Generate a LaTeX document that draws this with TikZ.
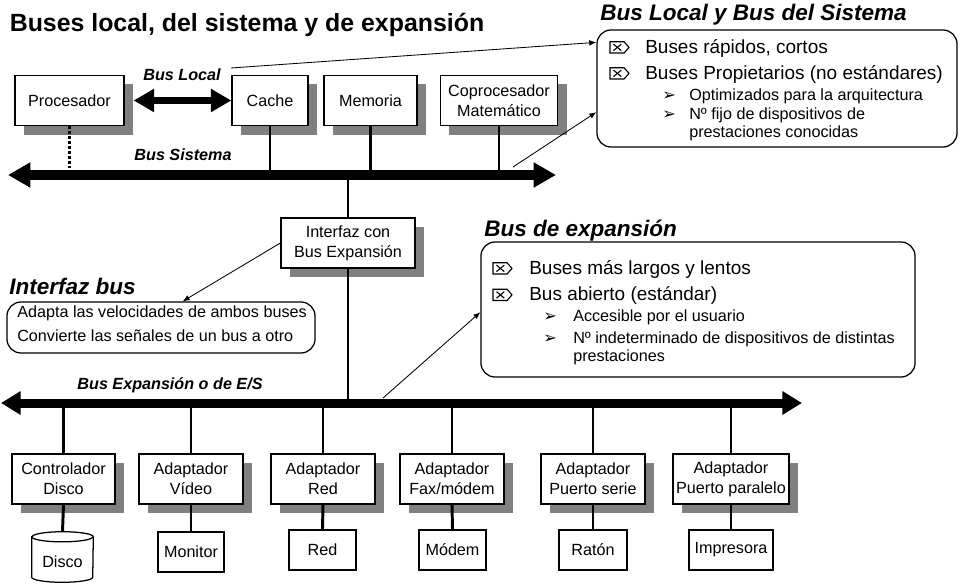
\documentclass[tikz,border=0pt]{standalone}
\usepackage{fontspec}
\setmainfont{Liberation Sans}
\newfontfamily\symfont{DejaVu Sans}
\usetikzlibrary{arrows.meta,calc,shadows}

\tikzset{
  blk/.style={draw, line width=0.9pt, fill=white, align=center, inner sep=1pt,
    font=\fontsize{11.5}{14}\selectfont, minimum height=1.25cm,
    drop shadow={shadow xshift=6.4pt, shadow yshift=-6.4pt, fill=black!50, opacity=1}},
  dev/.style={draw, line width=0.9pt, fill=white, inner sep=1pt,
    font=\fontsize{11.5}{14}\selectfont, minimum height=1cm},
  bubble/.style={draw, line width=0.9pt, rounded corners=10pt, inner sep=0pt},
  tap/.style={line width=2.1pt},
  dots/.style={line width=2.1pt, dash pattern=on 2.1pt off 1.4pt},
  note/.style={line width=0.6pt, -{Latex[length=5pt,width=4pt]}},
  sysbus/.style={line width=7pt, {Triangle[length=16pt,width=17pt]}-{Triangle[length=16pt,width=17pt]}},
  expbus/.style={line width=6.4pt, {Triangle[length=14pt,width=16pt]}-{Triangle[length=14pt,width=16pt]}},
  lclbus/.style={line width=5pt, {Triangle[length=14.5pt,width=15.6pt]}-{Triangle[length=14.5pt,width=15.6pt]}},
  ttl/.style={font=\fontsize{17.7}{20}\selectfont\bfseries, inner sep=0pt, anchor=base west},
  subttl/.style={font=\fontsize{16}{19}\selectfont\bfseries\itshape, inner sep=0pt, anchor=base west},
  buslbl/.style={font=\fontsize{11.5}{14}\selectfont\bfseries\itshape, inner sep=0pt, anchor=base},
  item/.style={font=\fontsize{13.5}{16}\selectfont, inner sep=0pt, anchor=base west},
  subitem/.style={font=\fontsize{11.5}{14}\selectfont, inner sep=0pt, anchor=base west},
  arrowmark/.style={font=\symfont\fontsize{11.5}{12}\selectfont, inner sep=0pt, anchor=base west},
  xmark/.pic={\draw[line width=0.8pt] (0,0) -- (10pt,0) -- (13.5pt,4pt) -- (10pt,8pt) -- (0,8pt) -- cycle
    (2.5pt,1.7pt) -- (8pt,6.3pt) (2.5pt,6.3pt) -- (8pt,1.7pt);}
}

\begin{document}
\begin{tikzpicture}[x=0.025cm, y=-0.025cm]
\useasboundingbox (0,0) rectangle (967,586);

% titles
\node[ttl] (title) at (9.5,31.5) {Buses local, del sistema y de expansión};
\node[subttl] (bltitle) at (600,20) {Bus Local y Bus del Sistema};
\node[subttl] (betitle) at (484,236) {Bus de expansión};
\node[subttl] (bititle) at (9,294) {Interfaz bus};

% bus ends
\coordinate (sbL) at (8,175);
\coordinate (sbR) at (556,175);
\coordinate (ebL) at (1,403);
\coordinate (ebR) at (802,403);

% system side blocks
\node[blk, minimum width=2.725cm] (proc) at (69.5,100.5) {Procesador};
\node[blk, minimum width=1.9cm] (cache) at (270,100.5) {Cache};
\node[blk, minimum width=2.325cm] (mem) at (370.5,100.5) {Memoria};
\node[blk, minimum width=2.925cm] (cop) at (499,100.5) {Coprocesador\\Matemático};

% expansion side blocks
\node[blk, minimum width=2.575cm] (ctrl) at (63.5,479) {Controlador\\Disco};
\node[blk, minimum width=2.6cm] (vid) at (191,479) {Adaptador\\Vídeo};
\node[blk, minimum width=2.6cm] (red) at (323,479) {Adaptador\\Red};
\node[blk, minimum width=2.6cm] (fax) at (452,479) {Adaptador\\Fax/módem};
\node[blk, minimum width=2.6cm] (serie) at (593,479) {Adaptador\\Puerto serie};
\node[blk, minimum width=2.9cm] (par) at (731,479) {Adaptador\\Puerto paralelo};

% devices
\node[minimum width=1.525cm, minimum height=1.25cm, inner sep=0pt] (disco) at (62.5,557) {};
\node[dev, minimum width=1.65cm] (monitor) at (191,552) {Monitor};
\node[dev, minimum width=1.675cm] (redd) at (322.5,550) {Red};
\node[dev, minimum width=1.675cm] (modem) at (452.5,550) {Módem};
\node[dev, minimum width=1.7cm] (raton) at (593,550) {Ratón};
\node[dev, minimum width=2.1cm] (impr) at (731,550) {Impresora};

\draw[line width=0.9pt, fill=white] ([yshift=-3.6pt]disco.north west) -- ([yshift=3.6pt]disco.south west)
  arc[start angle=180, end angle=360, x radius=21.7pt, y radius=3.6pt]
  -- ([yshift=-3.6pt]disco.north east)
  arc[start angle=0, end angle=180, x radius=21.7pt, y radius=3.6pt] -- cycle;
\draw[line width=0.9pt] ([yshift=-3.6pt]disco.north west)
  arc[start angle=180, end angle=360, x radius=21.7pt, y radius=3.6pt];
\node[font=\fontsize{11.5}{14}\selectfont, inner sep=0pt] (discotxt) at ([yshift=-3.6pt]disco.center) {Disco};

% taps to the buses
\draw[dots] (proc.south) -- (proc.south |- sbL);
\draw[tap] (cache.south) -- (cache.south |- sbL);
\draw[tap] (mem.south) -- (mem.south |- sbL);
\draw[tap] (cop.south) -- (cop.south |- sbL);
\draw[tap] (ctrl.north) -- (ctrl.north |- ebL);
\draw[tap] (vid.north) -- (vid.north |- ebL);
\draw[tap] (red.north) -- (red.north |- ebL);
\draw[tap] (fax.north) -- (fax.north |- ebL);
\draw[tap] (serie.north) -- (serie.north |- ebL);
\draw[tap] (par.north) -- (par.north |- ebL);
\draw[tap] (ctrl.south) -- (disco.north);
\draw[tap] (vid.south) -- (monitor.north);
\draw[tap] (red.south) -- (redd.north);
\draw[tap] (fax.south) -- (modem.north);
\draw[tap] (serie.south) -- (raton.north);
\draw[tap] (par.south) -- (impr.north);

% interface between buses
\node[blk, minimum width=3.35cm] (iface) at (348,243) {Interfaz con\\Bus Expansión};
\draw[tap] (iface.north) -- (iface.north |- sbL);
\draw[tap] (iface.south) -- (iface.south |- ebL);

% buses
\draw[sysbus] (sbL) -- (sbR);
\draw[expbus] (ebL) -- (ebR);
\draw[lclbus] ([xshift=6.4pt]proc.east) -- (cache.west);
\node[buslbl] (lbllocal) at (182,80.5) {Bus Local};
\node[buslbl] (lblsis) at (183,160.5) {Bus Sistema};
\node[buslbl] (lblexp) at (170,389) {Bus Expansión o de E/S};

% bus local y del sistema
\node[bubble, minimum width=9cm, minimum height=2.925cm] (bl) at (777,88.5) {};
\pic (blxa) at (610,53) {xmark};
\pic (blxb) at (610,79) {xmark};
\node[item] (bla) at (645,53) {Buses rápidos, cortos};
\node[item] (blb) at (645,79) {Buses Propietarios (no estándares)};
\node[arrowmark] (blma) at (662,100.5) {➢};
\node[arrowmark] (blmb) at (662,119.5) {➢};
\node[subitem] (blb1) at (689,100.5) {Optimizados para la arquitectura};
\node[subitem] (blb2) at (689,119.5) {Nº fijo de dispositivos de};
\node[subitem] (blb3) at (689,137.5) {prestaciones conocidas};

% bus de expansion
\node[bubble, minimum width=10.85cm, minimum height=3.375cm] (be) at (698,309.5) {};
\pic (bexa) at (493,274) {xmark};
\pic (bexb) at (493,300.5) {xmark};
\node[item] (bea) at (529,274) {Buses más largos y lentos};
\node[item] (beb) at (529,300.5) {Bus abierto (estándar)};
\node[arrowmark] (bema) at (543,321.5) {➢};
\node[arrowmark] (bemb) at (543,343) {➢};
\node[subitem] (beb1) at (573,321.5) {Accesible por el usuario};
\node[subitem] (beb2) at (573,343) {Nº indeterminado de dispositivos de distintas};
\node[subitem] (beb3) at (573,361) {prestaciones};

% interfaz bus
\node[bubble, minimum width=7.7cm, minimum height=1.275cm] (bi) at (161,327.5) {};
\node[subitem] (bia) at (17,317) {Adapta las velocidades de ambos buses};
\node[subitem] (bib) at (17,341) {Convierte las señales de un bus a otro};

% pointers to the notes
\coordinate (lk) at (231,68);
\coordinate (sk) at (513,167);
\coordinate (ek) at (383,398);
\draw[note] (lk) -- ($(bl.north west)!0.11!(bl.south west)$);
\draw[note] (sk) -- ($(bl.north west)!0.70!(bl.south west)$);
\draw[note] (iface.west) -- ($(bi.north west)!0.57!(bi.north east)$);
\draw[note] (ek) -- ($(be.north west)!0.52!(be.south west)$);
\end{tikzpicture}
\end{document}
